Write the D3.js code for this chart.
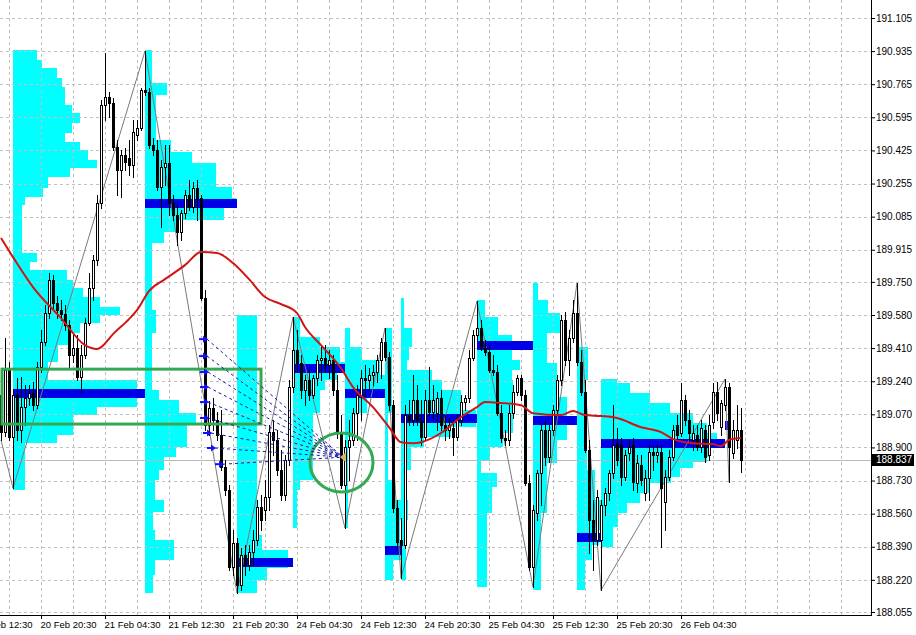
<!DOCTYPE html>
<html><head><meta charset="utf-8">
<script src="https://cdn.jsdelivr.net/npm/d3@7"></script>
<style>
html,body{margin:0;padding:0;background:#fff;}
svg{display:block;}
</style></head><body>
<svg id="chart" width="916" height="635"></svg>
<script>
// ---------- DATA ----------
const priceTicks = [191.105,190.935,190.765,190.595,190.425,190.255,190.085,189.915,189.750,189.580,189.410,189.240,189.070,188.900,188.730,188.560,188.390,188.220,188.055];
const timeTickBars = [-6,10,26,42,58,74,90,106,122,138,154,170];
const timeTickLabels = ["20 Feb 12:30","20 Feb 20:30","21 Feb 04:30","21 Feb 12:30","21 Feb 20:30","24 Feb 04:30","24 Feb 12:30","24 Feb 20:30","25 Feb 04:30","25 Feb 12:30","25 Feb 20:30","26 Feb 04:30"];

const open = [
189.169,188.979,189.297,188.953,189.169,188.989,189.107,189.153,189.179,189.117,
189.312,189.441,189.590,189.759,189.641,189.605,189.585,189.528,189.374,189.410,
189.261,189.374,189.538,189.718,189.862,190.155,190.658,190.699,190.668,190.442,
190.324,190.401,190.386,190.350,190.504,190.540,190.735,190.725,190.452,190.427,
190.237,190.339,190.360,190.155,190.093,190.006,190.103,190.196,190.134,190.232,
190.180,189.667,189.015,189.102,189.040,188.963,188.799,188.681,188.286,188.409,
188.193,188.347,188.296,188.363,188.424,188.594,188.578,188.645,188.979,188.938,
188.784,188.655,188.835,189.210,189.400,189.333,189.194,189.246,189.169,189.256,
189.348,189.358,189.323,189.348,189.194,188.974,188.707,188.902,188.938,189.076,
189.169,189.256,189.246,189.271,189.287,189.348,189.441,189.364,189.117,188.589,
188.424,188.399,189.066,189.040,189.143,189.040,188.953,189.143,189.081,189.076,
189.153,189.015,188.989,188.999,188.953,189.040,189.133,189.153,189.358,189.477,
189.513,189.410,189.389,189.297,189.287,189.076,188.948,188.938,189.076,189.184,
189.256,189.169,188.717,188.286,188.563,188.768,188.989,188.850,188.989,189.092,
189.246,189.554,189.348,189.461,189.590,189.338,189.184,188.886,188.527,188.424,
188.424,188.604,188.666,188.768,188.922,188.912,188.748,188.871,188.912,188.717,
188.809,188.666,188.743,188.876,188.861,188.876,188.620,188.748,188.850,189.015,
188.974,189.143,189.040,188.938,188.963,188.902,188.989,188.861,189.030,189.184,
189.004,189.117,189.210,188.871,188.938,188.989];
const high = [
189.220,189.461,189.338,189.194,189.256,189.261,189.220,189.220,189.235,189.338,
189.502,189.631,189.795,189.785,189.677,189.657,189.631,189.554,189.477,189.477,
189.425,189.564,189.795,189.888,190.196,190.684,190.925,190.725,190.694,190.478,
190.427,190.437,190.478,190.581,190.581,190.745,190.935,190.745,190.488,190.478,
190.375,190.452,190.452,190.196,190.144,190.119,190.221,190.273,190.262,190.273,
190.196,189.708,189.138,189.153,189.081,189.092,188.835,188.707,188.476,188.435,
188.383,188.399,188.399,188.476,188.630,188.655,188.732,189.015,189.040,188.989,
188.886,188.861,189.246,189.569,189.502,189.374,189.271,189.297,189.271,189.374,
189.425,189.425,189.400,189.374,189.271,189.066,188.938,189.040,189.102,189.220,
189.297,189.323,189.307,189.323,189.374,189.461,189.513,189.389,189.143,188.630,
188.537,189.117,189.143,189.271,189.220,189.143,189.194,189.312,189.220,189.184,
189.194,189.066,189.051,189.040,189.066,189.169,189.169,189.400,189.502,189.651,
189.554,189.451,189.425,189.374,189.323,189.117,188.989,189.117,189.220,189.271,
189.271,189.194,188.758,188.604,188.784,189.015,189.040,189.015,189.117,189.271,
189.580,189.595,189.502,189.657,189.744,189.400,189.246,188.938,188.630,188.681,
188.630,188.691,188.784,189.117,188.999,188.948,188.886,188.938,188.948,188.861,
188.861,188.784,188.912,188.912,188.912,188.912,188.784,188.886,189.015,189.066,
189.230,189.169,189.092,189.015,189.015,189.040,189.015,189.066,189.230,189.235,
189.143,189.251,189.230,189.040,189.117,189.102];
const low = [
188.938,188.958,188.938,188.691,188.938,188.927,189.015,189.117,189.092,189.102,
189.287,189.425,189.564,189.615,189.564,189.554,189.502,189.312,189.338,189.246,
189.184,189.358,189.528,189.657,189.836,190.129,190.581,190.596,190.427,190.196,
190.185,190.324,190.298,190.288,190.478,190.529,190.709,190.437,190.401,190.221,
190.031,190.247,190.093,190.067,189.939,189.965,190.078,190.119,190.108,190.067,
189.657,188.989,188.963,188.989,188.938,188.784,188.655,188.270,188.244,188.152,
188.167,188.244,188.270,188.296,188.399,188.476,188.527,188.578,188.861,188.758,
188.630,188.630,188.809,189.184,189.297,189.153,189.117,189.143,189.153,189.220,
189.246,189.287,189.256,189.169,188.948,188.691,188.486,188.732,188.912,188.938,
189.040,189.169,189.194,189.220,189.235,189.256,189.348,189.092,188.568,188.383,
188.229,188.383,189.015,189.015,189.015,188.912,188.938,189.066,189.051,188.989,
188.989,188.938,188.948,188.861,188.938,189.015,189.092,189.133,189.348,189.451,
189.400,189.374,189.287,189.271,189.066,188.927,188.912,188.912,189.051,189.169,
189.143,188.707,188.270,188.183,188.527,188.604,188.809,188.825,188.963,189.066,
189.220,189.323,189.271,189.441,189.323,189.169,188.876,188.357,188.270,188.399,
188.167,188.553,188.630,188.743,188.809,188.707,188.732,188.835,188.681,188.671,
188.707,188.630,188.630,188.784,188.825,188.389,188.476,188.732,188.835,188.938,
188.958,189.015,188.938,188.886,188.886,188.876,188.825,188.835,188.999,189.040,
188.963,189.092,188.722,188.845,188.897,188.773];
const close = [
188.979,189.297,188.953,189.169,188.989,189.107,189.153,189.179,189.117,189.312,
189.441,189.590,189.759,189.641,189.605,189.585,189.528,189.374,189.410,189.261,
189.374,189.538,189.718,189.862,190.155,190.658,190.699,190.668,190.442,190.324,
190.401,190.365,190.350,190.519,190.540,190.735,190.725,190.452,190.427,190.237,
190.339,190.360,190.155,190.093,190.006,190.103,190.196,190.134,190.232,190.180,
189.667,189.015,189.102,189.040,188.963,188.799,188.681,188.286,188.409,188.193,
188.347,188.296,188.363,188.424,188.594,188.527,188.645,188.979,188.938,188.784,
188.655,188.835,189.210,189.400,189.333,189.194,189.246,189.169,189.256,189.348,
189.358,189.323,189.348,189.194,188.974,188.707,188.902,188.938,189.076,189.169,
189.256,189.246,189.271,189.287,189.348,189.441,189.364,189.117,188.589,188.414,
188.399,189.066,189.040,189.143,189.040,188.953,189.143,189.081,189.143,189.153,
189.015,188.989,189.015,188.953,189.040,189.133,189.153,189.358,189.477,189.513,
189.410,189.389,189.297,189.287,189.076,188.948,188.938,189.076,189.184,189.256,
189.169,188.717,188.286,188.578,188.768,188.989,188.850,188.989,189.092,189.246,
189.554,189.348,189.461,189.590,189.338,189.184,188.886,188.527,188.424,188.645,
188.604,188.666,188.768,188.912,188.835,188.748,188.861,188.902,188.722,188.820,
188.732,188.743,188.876,188.861,188.876,188.691,188.748,188.850,188.989,188.963,
189.143,189.040,188.974,188.974,188.902,188.999,188.850,189.015,189.184,189.076,
189.128,189.210,188.902,188.989,188.989,188.837];

const maBars = [0,3,8,15,21,24,25,28,32,34,37,41,46,50,54,58,62,66,70,74,76,80,85,88,93,97,100,103,105,110,115,119,121,125,130,133,140,143,146,150,154,160,165,168,173,178,180,182,185];
const maValues = [189.975,189.877,189.723,189.564,189.425,189.405,189.415,189.482,189.559,189.605,189.703,189.764,189.836,189.903,189.898,189.847,189.764,189.672,189.636,189.590,189.518,189.425,189.307,189.210,189.107,189.004,188.927,188.922,188.927,188.974,189.056,189.107,189.133,189.128,189.117,189.076,189.066,189.087,189.066,189.061,189.051,189.004,188.979,188.943,188.922,188.917,188.907,188.938,188.948];

const zigzagBars = [0,3,36,59,73,86,96,100,119,133,144,150,181,182];
const zigzagPrices = [188.938,188.691,190.935,188.152,189.569,188.486,189.513,188.229,189.651,188.183,189.744,188.167,189.251,188.722];

const profileStart = [3,36,59,73,86,96,100,119,133,144,150,181];
const profileEnd   = [36,59,73,86,96,100,119,133,144,150,181,182];
const pocPrice     = [189.177,190.155,188.314,189.307,189.179,188.375,189.053,189.428,189.040,188.440,188.925,189.015];

// [level top price, volume]; last row marks the bottom of the profile
const profile1 = [[190.940,24],[190.889,29],[190.848,44],[190.797,49],[190.750,52],[190.658,59],[190.617,67],[190.565,59],[190.514,52],[190.468,67],[190.427,75],[190.375,84],[190.334,57],[190.288,35],[190.232,30],[190.185,12],[190.144,9],[189.898,24],[189.852,17],[189.811,54],[189.759,60],[189.718,70],[189.672,87],[189.620,107],[189.580,87],[189.538,67],[189.487,55],[189.425,45],[189.338,35],[189.246,124],[189.194,132],[189.159,124],[189.107,84],[189.066,60],[188.963,44],[188.922,12],[188.681,0]];
const profile2 = [[190.940,7],[190.771,22],[190.709,11],[190.478,26],[190.417,47],[190.360,71],[190.237,87],[190.180,91],[190.129,79],[190.067,31],[190.006,19],[189.949,7],[189.605,11],[189.487,7],[189.194,14],[189.143,34],[189.076,51],[189.025,42],[188.902,31],[188.850,19],[188.784,14],[188.732,10],[188.630,19],[188.568,8],[188.476,10],[188.424,29],[188.321,10],[188.244,8],[188.152,0]];
const profile3 = [[189.580,20],[188.450,25],[188.373,51],[188.280,30],[188.219,20],[188.152,0]];
const profile4 = [[189.569,7],[189.467,27],[189.415,47],[189.338,52],[189.297,44],[189.246,32],[189.194,27],[189.076,20],[188.732,7],[188.681,4],[188.486,0]];
const profile5 = [[189.513,5],[189.415,17],[189.348,35],[189.271,40],[189.159,22],[189.076,8],[188.953,3],[188.486,0]];
const profile6 = [[189.513,7],[189.076,3],[188.732,8],[188.630,23],[188.527,15],[188.389,17],[188.321,8],[188.219,0]];
const profile7 = [[189.667,3],[189.513,11],[189.415,8],[189.348,6],[189.297,31],[189.246,41],[189.194,60],[189.092,75],[189.004,50],[188.953,23],[188.902,10],[188.784,5],[188.219,0]];
const profile8 = [[189.657,8],[189.569,21],[189.477,35],[189.348,43],[189.297,35],[189.246,36],[188.974,26],[188.902,13],[188.835,4],[188.768,20],[188.697,15],[188.563,10],[188.183,0]];
const profile9 = [[189.744,5],[189.657,15],[189.590,27],[189.487,14],[189.333,24],[189.159,34],[189.056,44],[189.025,34],[188.938,24],[188.820,14],[188.563,8],[188.167,0]];
const profile10 = [[189.415,11],[189.246,8],[189.040,10],[188.784,18],[188.630,25],[188.476,22],[188.399,15],[188.321,8],[188.167,0]];
const profile11 = [[189.251,16],[189.230,29],[189.179,49],[189.128,69],[189.076,92],[189.025,106],[188.974,116],[188.912,109],[188.850,106],[188.825,92],[188.794,79],[188.748,70],[188.717,49],[188.666,39],[188.615,26],[188.563,17],[188.491,12],[188.389,0]];
const profile12 = [];

const rectBars = [0.25, 65];
const rectPrices = [189.302, 189.020];
const ellipseBars = [77.25, 93];
const ellipsePrices = [188.974, 188.671];
const arrowBars = [50.5,50.5,50.75,50.75,50.75,50.75,51.5,52.5,54.5];
const arrowPrices = [189.456,189.369,189.287,189.210,189.133,189.051,188.974,188.897,188.814];
const targetBar = 85.5, targetPrice = 188.850;
const currentPrice = 188.837;

// ---------- CHART ----------
const svg = d3.select("#chart");
const plotRight = 871, plotBottom = 615;
const x = d3.scaleLinear().domain([0,185]).range([1,741]);
const y = d3.scaleLinear().domain([188.055,191.105]).range([612,18]);
const vol = d3.scaleLinear().domain([0,100]).range([0,100]);
const FONT = "'Liberation Sans', Arial, sans-serif";

svg.append("rect").attr("width",916).attr("height",635).attr("fill","#fff");
svg.append("clipPath").attr("id","clip").append("rect")
  .attr("x",0).attr("y",0).attr("width",plotRight).attr("height",plotBottom);
const g = svg.append("g").attr("clip-path","url(#clip)");

// volume profiles
const profiles = [profile1,profile2,profile3,profile4,profile5,profile6,profile7,profile8,profile9,profile10,profile11,profile12];
const pg = g.append("g");
profiles.forEach((lv,k)=>{
  const x0 = Math.round(x(profileStart[k]));
  for(let j=0;j<lv.length-1;j++){
    const t = Math.round(y(lv[j][0])), b = Math.round(y(lv[j+1][0]));
    pg.append("rect").attr("x",x0).attr("y",t)
      .attr("width",Math.round(vol(lv[j][1]))).attr("height",b-t)
      .attr("fill","#00ffff");
  }
});

// grid
const gridBars = d3.range(2, 220, 8);
g.append("g").selectAll("line").data(gridBars).join("line")
  .attr("x1",d=>Math.round(x(d))+0.5).attr("x2",d=>Math.round(x(d))+0.5)
  .attr("y1",0).attr("y2",plotBottom)
  .attr("stroke","#c0c0c0").attr("stroke-dasharray","3,3");
g.append("g").selectAll("line").data(priceTicks).join("line")
  .attr("y1",d=>Math.round(y(d))+0.5).attr("y2",d=>Math.round(y(d))+0.5)
  .attr("x1",0).attr("x2",plotRight)
  .attr("stroke","#c0c0c0").attr("stroke-dasharray","3,3");

// current price line
g.append("line").attr("x1",0).attr("x2",plotRight)
  .attr("y1",Math.round(y(currentPrice))+0.5).attr("y2",Math.round(y(currentPrice))+0.5)
  .attr("stroke","#b8b8b8");

// POC bars
g.append("g").selectAll("rect").data(pocPrice).join("rect")
  .attr("x",(d,i)=>Math.round(x(profileStart[i])))
  .attr("width",(d,i)=>Math.max(3,Math.round(x(profileEnd[i])-x(profileStart[i]))))
  .attr("y",d=>Math.round(y(d))-4).attr("height",9)
  .attr("fill","#0000e6");

// zigzag
g.append("path")
  .attr("d",d3.line().x(d=>x(d)).y((d,i)=>y(zigzagPrices[i]))(zigzagBars))
  .attr("fill","none").attr("stroke","#7a7a7a").attr("stroke-width",1);

// candles
const cg = g.append("g");
open.forEach((o,i)=>{
  const c = close[i], h = high[i], l = low[i];
  const cx = Math.round(x(i));
  cg.append("line").attr("x1",cx+0.5).attr("x2",cx+0.5)
    .attr("y1",Math.round(y(h))).attr("y2",Math.round(y(l))+1)
    .attr("stroke","#000").attr("stroke-width",1);
  const top = Math.round(y(Math.max(o,c))), bot = Math.round(y(Math.min(o,c)));
  if (c < o) {
    cg.append("rect").attr("x",cx-1).attr("y",top).attr("width",3)
      .attr("height",Math.max(1,bot-top+1)).attr("fill","#000");
  } else {
    const hgt = Math.max(0,bot-top);
    cg.append("rect").attr("x",cx-0.5).attr("y",top+0.5).attr("width",2)
      .attr("height",hgt).attr("fill","#fff").attr("stroke","#000").attr("stroke-width",1);
  }
});

// moving average
g.append("path")
  .attr("d",d3.line().curve(d3.curveMonotoneX).x(d=>x(d)).y((d,i)=>y(maValues[i]))(maBars))
  .attr("fill","none").attr("stroke","#d21414").attr("stroke-width",2);

// green rectangle
g.append("rect")
  .attr("x",x(rectBars[0])).attr("y",y(rectPrices[0]))
  .attr("width",x(rectBars[1])-x(rectBars[0])).attr("height",y(rectPrices[1])-y(rectPrices[0]))
  .attr("fill","none").attr("stroke","#35a853").attr("stroke-width",3);

// green ellipse
g.append("ellipse")
  .attr("cx",(x(ellipseBars[0])+x(ellipseBars[1]))/2)
  .attr("cy",(y(ellipsePrices[0])+y(ellipsePrices[1]))/2)
  .attr("rx",(x(ellipseBars[1])-x(ellipseBars[0]))/2)
  .attr("ry",(y(ellipsePrices[1])-y(ellipsePrices[0]))/2)
  .attr("fill","none").attr("stroke","#35a853").attr("stroke-width",3);

// projection lines + arrows
const tx = x(targetBar), ty = y(targetPrice);
g.append("g").selectAll("line").data(arrowBars).join("line")
  .attr("x1",d=>x(d)+4).attr("y1",(d,i)=>y(arrowPrices[i]))
  .attr("x2",tx).attr("y2",ty)
  .attr("stroke","#1a1aa8").attr("stroke-width",1).attr("stroke-dasharray","3,3");
const ag = g.append("g");
arrowBars.forEach((b,i)=>{
  const ax = x(b), ay = y(arrowPrices[i]);
  ag.append("line").attr("x1",ax-4).attr("x2",ax+1).attr("y1",ay).attr("y2",ay)
    .attr("stroke","#1010ff").attr("stroke-width",2);
  ag.append("path").attr("d",`M${ax+5},${ay} L${ax},${ay-3.5} L${ax},${ay+3.5} Z`).attr("fill","#1010ff");
});
g.append("path").attr("d",`M${tx-3},${ty} L${tx+3},${ty-5} L${tx+3},${ty+5} Z`).attr("fill","#deb06a");

// axes lines
svg.append("line").attr("x1",plotRight+0.5).attr("x2",plotRight+0.5).attr("y1",0).attr("y2",plotBottom+1)
  .attr("stroke","#000");
svg.append("line").attr("x1",0).attr("x2",plotRight+1).attr("y1",plotBottom+0.5).attr("y2",plotBottom+0.5)
  .attr("stroke","#000");

// y axis
const yAx = svg.append("g").attr("transform",`translate(${plotRight},0)`)
  .call(d3.axisRight(y).tickValues(priceTicks).tickFormat(d3.format(".3f")).tickSize(4).tickPadding(1));
yAx.select(".domain").remove();
yAx.attr("font-family",FONT).attr("font-size",10);
yAx.selectAll("line").attr("stroke","#000");
yAx.selectAll("text").attr("fill","#000");

// x axis
const xAx = svg.append("g").attr("transform",`translate(0,${plotBottom})`)
  .call(d3.axisBottom(x).tickValues(timeTickBars).tickFormat((d,i)=>timeTickLabels[i]).tickSize(4).tickPadding(2));
xAx.select(".domain").remove();
xAx.attr("font-family",FONT).attr("font-size",9.5);
xAx.selectAll("line").attr("stroke","#000");
xAx.selectAll("text").attr("text-anchor","start").attr("x",-1).attr("fill","#000");

// current price label
const cy = y(currentPrice);
svg.append("rect").attr("x",plotRight+1).attr("y",Math.round(cy)-6).attr("width",42).attr("height",12).attr("fill","#000");
svg.append("text").attr("x",plotRight+5).attr("y",cy).attr("dy","0.35em")
  .attr("font-family",FONT).attr("font-size",10).attr("fill","#fff").text(currentPrice.toFixed(3));
</script>
</body></html>
